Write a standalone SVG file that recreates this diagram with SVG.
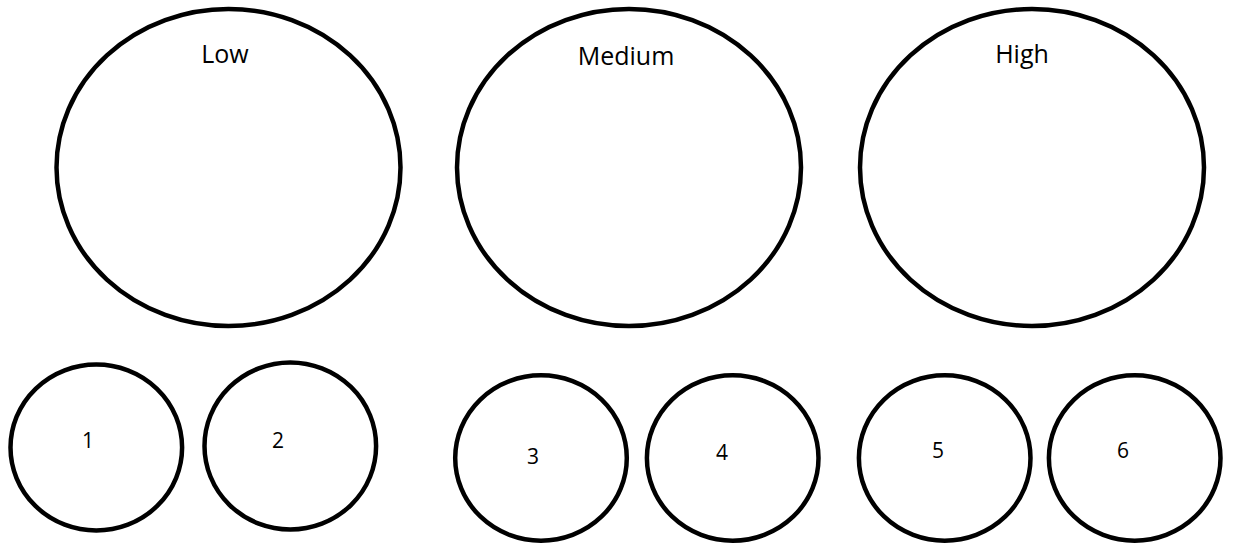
<svg xmlns="http://www.w3.org/2000/svg" width="1235" height="547" viewBox="0 0 1235 547">
  <style>
    .shape { fill: #ffffff; stroke: #000000; stroke-width: 4.5; }
    .big { font-family: "Open Sans", "Liberation Sans", sans-serif; font-size: 25px; fill: #000000; text-anchor: middle; }
    .num { font-family: "Open Sans", "Liberation Sans", sans-serif; font-size: 21px; fill: #000000; text-anchor: middle; }
  </style>
  <rect x="0" y="0" width="1235" height="547" fill="#ffffff"/>
  <g id="low">
    <ellipse class="shape" cx="228.5" cy="167.5" rx="172" ry="158.5"/>
    <text class="big" x="225" y="63">Low</text>
  </g>
  <g id="medium">
    <ellipse class="shape" cx="629" cy="167.5" rx="172" ry="158.5"/>
    <text class="big" x="626" y="65">Medium</text>
  </g>
  <g id="high">
    <ellipse class="shape" cx="1032" cy="167.5" rx="172" ry="158.5"/>
    <text class="big" x="1022" y="63">High</text>
  </g>
  <g id="n1">
    <ellipse class="shape" cx="96.3" cy="447.5" rx="85.8" ry="83"/>
    <text class="num" x="88" y="448">1</text>
  </g>
  <g id="n2">
    <ellipse class="shape" cx="290.3" cy="446" rx="85.8" ry="83.5"/>
    <text class="num" x="278" y="448">2</text>
  </g>
  <g id="n3">
    <ellipse class="shape" cx="541" cy="458" rx="85.8" ry="82.7"/>
    <text class="num" x="533" y="464">3</text>
  </g>
  <g id="n4">
    <ellipse class="shape" cx="732.7" cy="458" rx="85.8" ry="82.7"/>
    <text class="num" x="722" y="460">4</text>
  </g>
  <g id="n5">
    <ellipse class="shape" cx="944.7" cy="458" rx="85.8" ry="82.7"/>
    <text class="num" x="938" y="458">5</text>
  </g>
  <g id="n6">
    <ellipse class="shape" cx="1134.7" cy="458" rx="85.8" ry="82.7"/>
    <text class="num" x="1123" y="458">6</text>
  </g>
  <g id="connectors"></g>
</svg>
